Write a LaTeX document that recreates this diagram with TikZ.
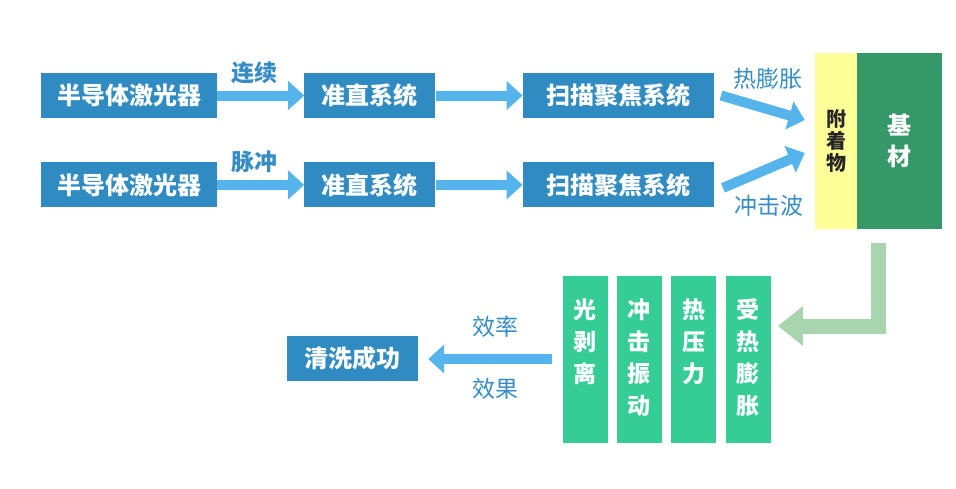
\documentclass[tikz,border=0pt]{standalone}
\usepackage{fontspec}
\setmainfont{Noto Sans CJK SC}
\usepackage{tikz}
\usetikzlibrary{positioning, arrows.meta}
\definecolor{boxblue}{HTML}{2F8BC2}
\definecolor{arrowblue}{HTML}{56B4EC}
\definecolor{lblblue}{HTML}{368DC6}
\definecolor{bargreen}{HTML}{36CC96}
\definecolor{basegreen}{HTML}{349868}
\definecolor{attachyellow}{HTML}{FFFF99}
\definecolor{backgreen}{HTML}{A8D4AE}
\tikzset{
box/.style={fill=boxblue, text=white, font=\bfseries\fontsize{24}{28}\selectfont, minimum height=45pt, inner sep=0pt}, % blue process boxes
flow/.style={draw=arrowblue, line width=10pt, -{Triangle[width=28pt,length=16pt]}}, % thick blue arrows
lbl/.style={text=lblblue, font=\fontsize{23}{26}\selectfont, inner sep=0pt}, % arrow labels
bar/.style={fill=bargreen, minimum width=45pt, minimum height=167pt, inner sep=0pt}, % green effect bars
bartext/.style={text=white, font=\bfseries\fontsize{23}{32}\selectfont, align=center, inner sep=0pt},
}

\begin{document}
\begin{tikzpicture}[x=1pt, y=-1pt]
        \useasboundingbox (0,0) rectangle (956,488);
        % two beam lines
        \node[box, minimum width=176pt] (laser1) at (129,95.5) {半导体激光器};
        \node[box, minimum width=131pt, right=87pt of laser1] (coll1) {准直系统};
        \node[box, minimum width=191pt, right=87pt of coll1] (scan1) {扫描聚焦系统};
        \node[box, minimum width=176pt, below=44pt of laser1] (laser2) {半导体激光器};
        \node[box, minimum width=131pt, right=87pt of laser2] (coll2) {准直系统};
        \node[box, minimum width=191pt, right=87pt of coll2] (scan2) {扫描聚焦系统};
        % sample
        \node[fill=attachyellow, minimum width=42pt, minimum height=176pt, inner sep=0pt, align=center,
              text=black!85, font=\bfseries\fontsize{20}{22}\selectfont] (attach) at (836,141) {附\\着\\物};
        \node[fill=basegreen, minimum width=85pt, minimum height=176pt, inner sep=0pt, align=center,
              text=white, font=\bfseries\fontsize{24}{31}\selectfont, right=0pt of attach] (base) {基\\材};
        % effects
        \node[bar] (b1) at (585,359) {};
        \node[bar, right=9pt of b1] (b2) {};
        \node[bar, right=9pt of b2] (b3) {};
        \node[bar, right=9pt of b3] (b4) {};
        \node[bartext, below=23pt of b1.north] (t1) {光\\剥\\离};
        \node[bartext, below=23pt of b2.north] (t2) {冲\\击\\振\\动};
        \node[bartext, below=23pt of b3.north] (t3) {热\\压\\力};
        \node[bartext, below=23pt of b4.north] (t4) {受\\热\\膨\\胀};
        \node[box, minimum width=131pt] (clean) at (352.5,358) {清洗成功};

        \draw[flow] (laser1) -- node[lbl, above=7pt, xshift=-6pt, font=\bfseries\fontsize{23}{26}\selectfont]{连续} (coll1);
        \draw[flow] (coll1) -- (scan1);
        \draw[flow] (laser2) -- node[lbl, above=7pt, xshift=-6pt, font=\bfseries\fontsize{23}{26}\selectfont]{脉冲} (coll2);
        \draw[flow] (coll2) -- (scan2);
        \draw[flow] ([xshift=7pt]scan1.east) -- node[lbl, above=13pt, xshift=5pt]{热膨胀} ([shift={(-10,-21)}]attach.west);
        \draw[flow] ([shift={(9,3)}]scan2.east) -- node[lbl, below=20pt, xshift=5pt]{冲击波} ([shift={(-10,12)}]attach.west);
        \draw[draw=backgreen, line width=15pt, -{Triangle[width=38pt,length=25pt]}]
              ([shift={(-21,14)}]base.south) |- ([shift={(7,-33)}]b4.east);
        \draw[flow, shorten <=10pt, shorten >=10pt] (b1.west) -- node[lbl, above=17pt, xshift=5pt]{效率}
              node[lbl, below=14pt, xshift=5pt]{效果} (b1.west -| clean.east);
\end{tikzpicture}
\end{document}
